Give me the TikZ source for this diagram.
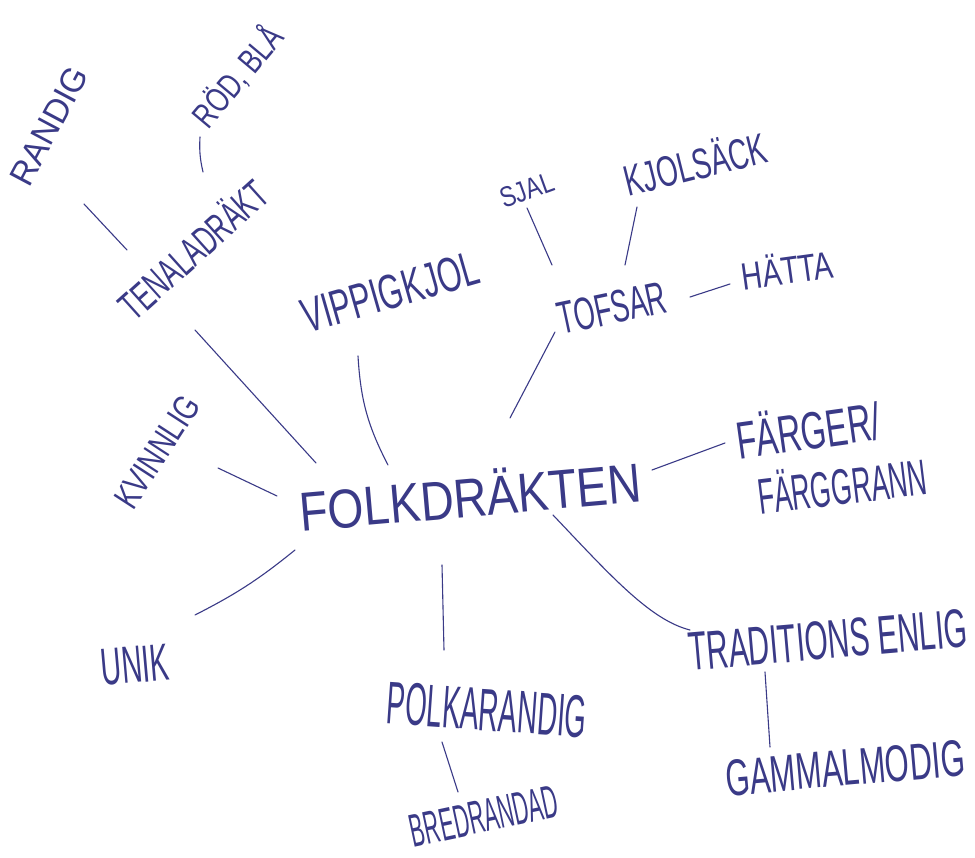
\documentclass[tikz,border=0pt]{standalone}
\usepackage{fontspec}
\usepackage{graphicx}
\setmainfont{Liberation Sans}
\definecolor{ink}{RGB}{58,58,135}
\newcommand{\hw}[3]{\resizebox{#1pt}{#2pt}{#3}}
\begin{document}
\begin{tikzpicture}[x=1pt,y=-1pt,
  word/.style={inner sep=0pt, text=ink, font=\mdseries},
  pen/.style={draw=ink, line width=1.1pt, line cap=round}]
\useasboundingbox (0,0) rectangle (975,858);
\fill[white] (0,0) rectangle (975,858);

% words
\node[word, rotate=5]  (folk)   at (470,494) {\hw{342}{46}{FOLKDRÄKTEN}};
\node[word, rotate=42] (tena)   at (192,248) {\hw{185}{34}{TENALADRÄKT}};
\node[word, rotate=62] (randig) at (49,126)  {\hw{128}{24}{RANDIG}};
\node[word, rotate=50] (rod)    at (237,76)  {\hw{120}{30}{RÖD, BLÅ}};
\node[word, rotate=57] (kvinn)  at (157,452) {\hw{126}{25}{KVINNLIG}};
\node[word, rotate=16] (vippig) at (390,292) {\hw{182}{34}{VIPPIGKJOL}};
\node[word, rotate=20] (sjal)   at (527,190) {\hw{55}{20}{SJAL}};
\node[word, rotate=12] (tofsar) at (612,308) {\hw{110}{32}{TOFSAR}};
\node[word, rotate=14] (kjol)   at (695,162) {\hw{145}{36}{KJOLSÄCK}};
\node[word, rotate=8]  (hatta)  at (787,268) {\hw{92}{32}{HÄTTA}};
\node[word, rotate=8]  (farger) at (808,428) {\hw{145}{44}{FÄRGER/}};
\node[word, rotate=7]  (fargg)  at (842,484) {\hw{170}{42}{FÄRGGRANN}};
\node[word, rotate=5]  (trad)   at (828,640) {\hw{280}{38}{TRADITIONS ENLIG}};
\node[word, rotate=5]  (gammal) at (845,768) {\hw{240}{36}{GAMMALMODIG}};
\node[word, rotate=5]  (unik)   at (135,665) {\hw{68}{36}{UNIK}};
\node[word, rotate=-4] (polka)  at (487,710) {\hw{200}{42}{POLKARANDIG}};
\node[word, rotate=12] (bred)   at (484,816) {\hw{150}{32}{BREDRANDAD}};

% connector end points
\coordinate (a1) at (84,204);   \coordinate (a2) at (127,250);
\coordinate (b1) at (200,137);  \coordinate (b2) at (203,172);
\coordinate (c1) at (195,330);  \coordinate (c2) at (316,463);
\coordinate (d1) at (218,468);  \coordinate (d2) at (277,496);
\coordinate (e1) at (358,356);  \coordinate (e2) at (388,465);
\coordinate (f1) at (555,332);  \coordinate (f2) at (510,418);
\coordinate (g1) at (527,208);  \coordinate (g2) at (552,265);
\coordinate (h1) at (637,207);  \coordinate (h2) at (625,265);
\coordinate (i1) at (690,297);  \coordinate (i2) at (730,284);
\coordinate (j1) at (652,470);  \coordinate (j2) at (725,443);
\coordinate (k1) at (553,515);  \coordinate (k2) at (690,630);
\coordinate (l1) at (765,672);  \coordinate (l2) at (770,747);
\coordinate (m1) at (442,565);  \coordinate (m2) at (444,650);
\coordinate (n1) at (442,742);  \coordinate (n2) at (458,792);
\coordinate (o1) at (295,550);  \coordinate (o2) at (195,615);

% connectors
\draw[pen] (a1) -- (a2);
\draw[pen] (b1) to[bend right=8] (b2);
\draw[pen] (c1) -- (c2);
\draw[pen] (d1) -- (d2);
\draw[pen] (e1) to[bend right=12] (e2);
\draw[pen] (f1) -- (f2);
\draw[pen] (g1) -- (g2);
\draw[pen] (h1) -- (h2);
\draw[pen] (i1) -- (i2);
\draw[pen] (j1) -- (j2);
\draw[pen] (k1) .. controls (610,575) and (650,620) .. (k2);
\draw[pen] (l1) -- (l2);
\draw[pen] (m1) -- (m2);
\draw[pen] (n1) -- (n2);
\draw[pen] (o1) to[bend left=6] (o2);
\end{tikzpicture}
\end{document}
